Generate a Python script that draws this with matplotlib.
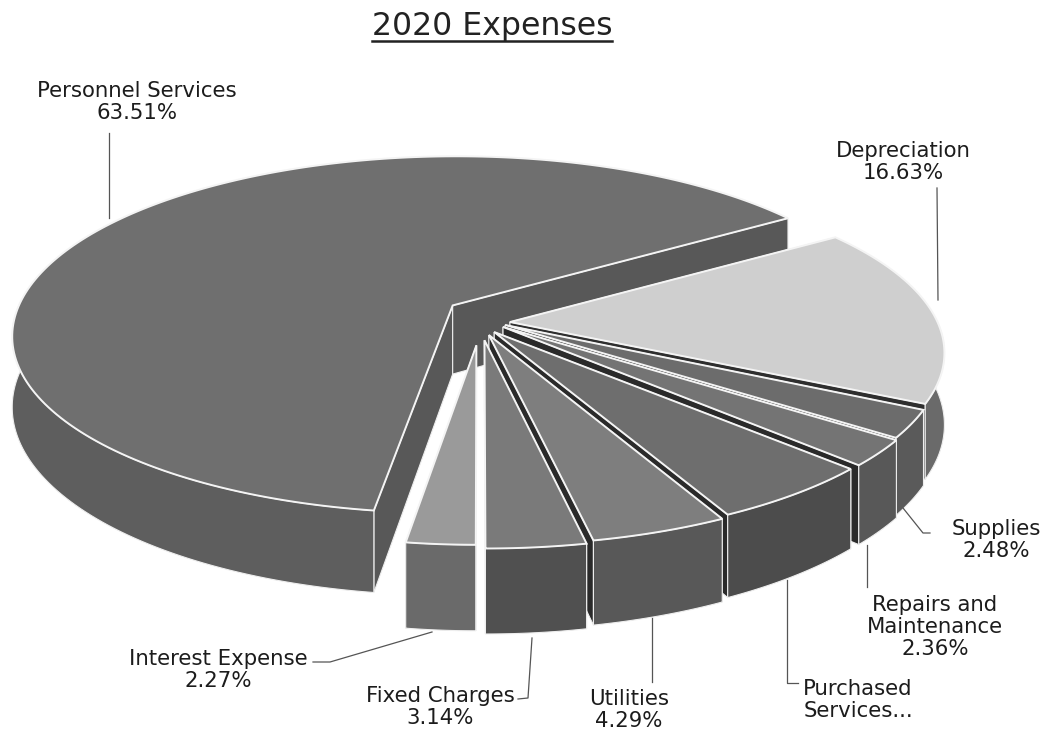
import numpy as np
import matplotlib
matplotlib.use("Agg")
from matplotlib import pyplot as plt

# Clockwise from the back right. Purchased Services has no printed value, it is the remainder.
names = ["Depreciation", "Supplies", "Repairs and\nMaintenance", "Purchased\nServices...",
         "Utilities", "Fixed Charges", "Interest Expense", "Personnel Services"]
shares = [16.63, 2.48, 2.36, 5.32, 4.29, 3.14, 2.27, 63.51]
shown = ["16.63%", "2.48%", "2.36%", "", "4.29%", "3.14%", "2.27%", "63.51%"]

top_colours = ["#cfcfcf", "#6c6c6c", "#747474", "#6e6e6e", "#7e7e7e", "#7a7a7a", "#9a9a9a", "#6f6f6f"]
side_colours = ["#6a6a6a", "#5a5a5a", "#585858", "#4c4c4c", "#585858", "#505050", "#6a6a6a", "#5e5e5e"]
cut_colours = ["#2e2e2e", "#2a2a2a", "#2a2a2a", "#2a2a2a", "#2a2a2a", "#333333", "#333333", "#585858"]

# how far each slice is pulled out, in units of the pie radius
pull_x = [0.068, 0.057, 0.052, 0.032, 0.020, 0.010, -0.008, -0.063]
pull_y = [0.017, 0.000, -0.011, -0.040, -0.057, -0.086, -0.114, 0.114]
# the scan is not a clean projection, so each slice gets its own small correction
scale_x = [0.97, 0.975, 0.98, 0.98, 0.98, 0.96, 0.91, 1.0]
scale_y = [0.97, 1.0, 1.0, 0.98, 0.98, 0.96, 0.91, 1.03]

start_angle = 33.2
centre_x, centre_y = 480, 325
radius_x, radius_y = 442, 175
depth = 0.167
thickness = 70


def project(x, y):
    k = 1 + depth * y
    return centre_x + radius_x * x / k, centre_y - radius_y * y / k


fig = plt.figure(figsize=(10.52, 7.30), dpi=100)
ax = fig.add_axes([0, 0, 1, 1])
ax.set_xlim(0, 1052)
ax.set_ylim(730, 0)
ax.axis("off")

spans = np.array(shares) / sum(shares) * 360
ends = start_angle - np.cumsum(spans)
starts = ends + spans
mids = np.radians((starts + ends) / 2)

for i in np.argsort(-np.sin(mids)):
    t = np.radians(np.linspace(starts[i], ends[i], 200))
    rim_x = np.cos(t) + pull_x[i]
    rim_y = np.sin(t) + pull_y[i]
    ax0, ay0 = project(pull_x[i], pull_y[i])
    raw_x, raw_y = project(rim_x, rim_y)
    px = ax0 + (raw_x - ax0) * scale_x[i]
    py = ay0 + (raw_y - ay0) * scale_y[i]
    drop = thickness / (1 + depth * rim_y)
    bx, by = px, py + drop
    ay1 = ay0 + thickness / (1 + depth * pull_y[i])

    for j in (0, -1):
        ax.fill([ax0, px[j], bx[j], ax0], [ay0, py[j], by[j], ay1], color=cut_colours[i],
                ec="#eeeeee", lw=0.8, zorder=2)
    front = np.sin(t) < 0.02
    ax.fill(np.r_[px[front], bx[front][::-1]], np.r_[py[front], by[front][::-1]], color=side_colours[i],
            ec="#eeeeee", lw=0.8, zorder=2)
    ax.fill(np.r_[ax0, px], np.r_[ay0, py], color=top_colours[i], ec="#f4f4f4", lw=1.4, zorder=2)

title = ax.text(492, 27, "2020 Expenses", ha="center", va="center", fontsize=22.7, color="#222222", zorder=5)
fig.canvas.draw()
box = title.get_window_extent().transformed(ax.transData.inverted())
ax.plot([box.x0, box.x1], [41, 41], color="#222222", lw=1.8)

label_x = [903, 996, 935, 858, 629, 440, 218, 137]
label_y = [162, 540, 627, 700, 710, 707, 670, 102]
for n, s, x, y in zip(names, shown, label_x, label_y):
    txt = n + "\n" + s if s else n
    ax.text(x, y, txt, ha="center", va="center", multialignment="center", fontsize=15.3,
            color="#1c1c1c", linespacing=1.12, zorder=5)

leaders = [
    ([937, 938], [188, 300]),
    ([903, 923, 930], [508, 533, 533]),
    ([867, 867], [545, 587]),
    ([787, 787, 798], [580, 683, 683]),
    ([652, 652], [618, 682]),
    ([532, 528, 518], [638, 698, 699]),
    ([432, 330, 313], [632, 662, 662]),
    ([109, 109], [133, 218]),
]
for lx, ly in leaders:
    ax.plot(lx, ly, color="#555555", lw=0.9, zorder=3)

fig.savefig("out.png", dpi=100)
